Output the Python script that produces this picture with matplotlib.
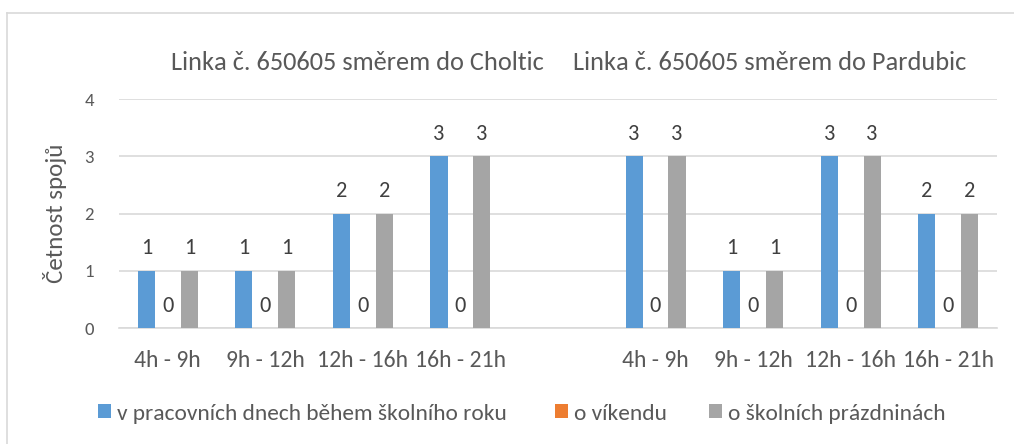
import matplotlib
matplotlib.use("Agg")
import matplotlib.pyplot as plt
from matplotlib.lines import Line2D
from matplotlib.patches import Patch

plt.rcParams['font.family'] = ['Carlito', 'DejaVu Sans']

categories = ["4h - 9h", "9h - 12h", "12h - 16h", "16h - 21h", "",
              "4h - 9h", "9h - 12h", "12h - 16h", "16h - 21h"]
series_names = ["v pracovních dnech během školního roku", "o víkendu", "o školních prázdninách"]
workdays = [1, 1, 2, 3, None, 3, 1, 3, 2]
weekend = [0, 0, 0, 0, None, 0, 0, 0, 0]
holidays = [1, 1, 2, 3, None, 3, 1, 3, 2]
group_titles = ["Linka č. 650605 směrem do Choltic", "Linka č. 650605 směrem do Pardubic"]
y_ticks = [0, 1, 2, 3, 4]
y_label = "Četnost spojů"

colors = ["#5B9BD5", "#ED7D31", "#A5A5A5"]
text_color = "#595959"
grid_color = "#D9D9D9"

W, H = 1014, 444
fig = plt.figure(figsize=(W / 100, H / 100), dpi=100)
ax = fig.add_axes([119 / W, 1 - 328 / H, (997 - 119) / W, (328 - 99) / H])

all_series = [workdays, weekend, holidays]
bw = 0.175
offs = [-0.22, 0.0, 0.22]
for s, name, c, o in zip(all_series, series_names, colors, offs):
    xs = [i + o for i, v in enumerate(s) if v is not None]
    vs = [v for v in s if v is not None]
    bars = ax.bar(xs, vs, width=bw, color=c, label=name, zorder=3)
    ax.bar_label(bars, labels=[str(v) for v in vs], padding=9, fontsize=16, color="#404040")

ax.set_xlim(-0.5, len(categories) - 0.5)
ax.set_ylim(0, 4)
ax.set_yticks(y_ticks)
ax.set_xticks(range(len(categories)))
ax.set_xticklabels(categories)
ax.tick_params(axis='both', length=0, colors=text_color)
ax.tick_params(axis='y', pad=18, labelsize=13.5)
ax.tick_params(axis='x', pad=16, labelsize=17)
ax.grid(axis='y', color=grid_color, linewidth=1.2, zorder=0)
for sp in ['top', 'right', 'left']:
    ax.spines[sp].set_visible(False)
ax.spines['bottom'].set_color(grid_color)
ax.spines['bottom'].set_linewidth(1.2)
ax.set_ylabel(y_label, fontsize=18, color=text_color)
ax.yaxis.set_label_coords((67 - 119) / 878, 0.5)

fig.text(357 / W, 1 - 70 / H, group_titles[0], ha='center', va='baseline', fontsize=19, color=text_color)
fig.text(770 / W, 1 - 70 / H, group_titles[1], ha='center', va='baseline', fontsize=19, color=text_color)

legend_left_px = [98, 555, 709]
for c, name, xl in zip(colors, series_names, legend_left_px):
    leg = fig.legend([Patch(facecolor=c, edgecolor='none')], [name], loc='center left',
                     bbox_to_anchor=(xl / W, 1 - 413.5 / H), frameon=False, fontsize=16.8,
                     labelcolor=text_color, handlelength=0.55, handleheight=0.55,
                     handletextpad=0.27, borderpad=0, borderaxespad=0)

fig.add_artist(Line2D([7 / W, 7 / W], [0, 1 - 13 / H], transform=fig.transFigure, color=grid_color, linewidth=1.2))
fig.add_artist(Line2D([7 / W, 1], [1 - 13 / H, 1 - 13 / H], transform=fig.transFigure, color=grid_color, linewidth=1.2))

fig.savefig("out.png", dpi=100)
